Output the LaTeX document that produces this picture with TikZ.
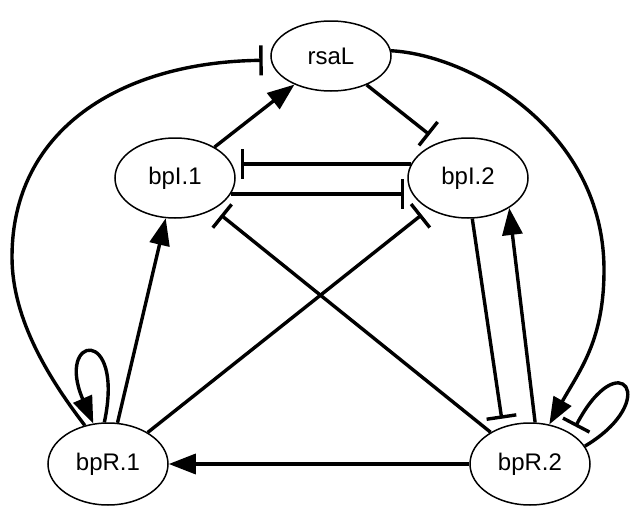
\documentclass[tikz,border=0pt]{standalone}
\usepackage{fontspec}
\setmainfont{Liberation Sans}
\usetikzlibrary{shapes.geometric,arrows.meta}
\begin{document}
\begin{tikzpicture}[x=1pt,y=-1pt,
  gene/.style={ellipse,draw,line width=1.5pt,minimum width=120pt,minimum height=80pt,inner sep=0pt,font=\fontsize{24}{28}\selectfont},
  act/.style={line width=3.4pt,-{Triangle[length=27pt,width=20pt]}},
  inh/.style={line width=3.4pt,-{Bar[width=30pt]}}]
\fill[white] (0,0) rectangle (641,506);
\useasboundingbox (0,0) rectangle (641,506);
\node[gene,minimum height=70pt] (rsaL) at (331,56) {rsaL};
\node[gene] (bpl1) at (175,178) {bpI.1};
\node[gene] (bpl2) at (468,178) {bpI.2};
\node[gene,minimum height=82pt] (bpR1) at (108,464) {bpR.1};
\node[gene,minimum height=82pt] (bpR2) at (530,464) {bpR.2};

\draw[act] (bpl1) -- (rsaL);
\draw[inh,shorten >=12pt] (rsaL.-39) -- (bpl2.129);
\draw[inh,shorten >=8pt] (bpR1.121) .. controls (50,380) and (12,320) .. (12,257) .. controls (12,130) and (120,62) .. (rsaL.184);
\draw[act] (rsaL.5) .. controls (470,55) and (604,130) .. (604,270) .. controls (604,340) and (580,370) .. (bpR2.64);
\draw[inh,shorten >=9pt] (bpl2.166) -- (bpl1.14);
\draw[inh,shorten >=8pt] (bpl1.-16) -- (bpl2.196);
\draw[inh,shorten >=9pt] (bpR2) -- (bpl1);
\draw[inh,shorten >=9pt] (bpR1) -- (bpl2);
\draw[act] (bpR1.77) -- (bpl1.257);
\draw[act] (bpR1.95) .. controls (125,325) and (55,335) .. (bpR1.110);
\draw[act] (bpR2) -- (bpR1);
\draw[inh,shorten >=8pt] (bpl2.-84) -- (bpR2.126);
\draw[act] (bpR2.83) -- (bpl2.-36);
\draw[inh,shorten >=8pt] (bpR2.18) .. controls (662,400) and (620,342) .. (bpR2.36);
\end{tikzpicture}
\end{document}
